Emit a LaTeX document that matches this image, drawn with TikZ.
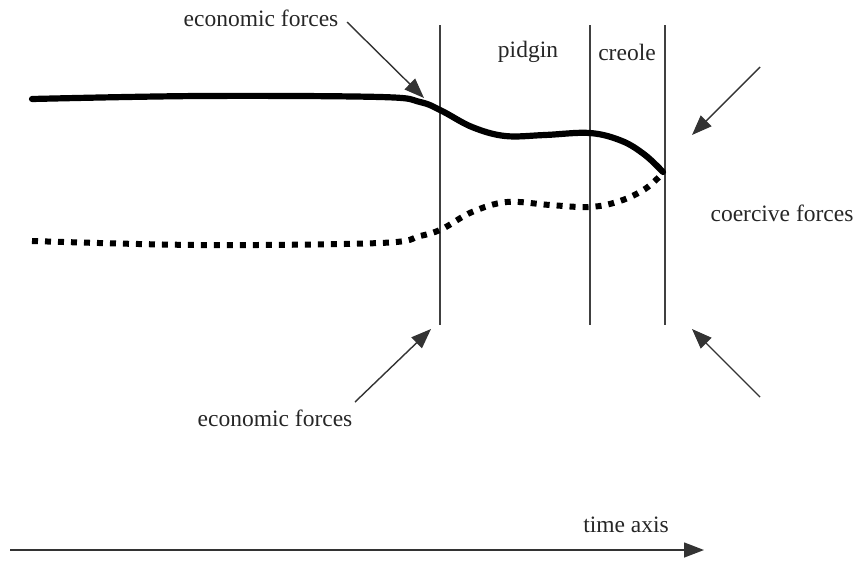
\documentclass[tikz,border=0pt]{standalone}
\usepackage{fontspec}
\setmainfont{Liberation Serif}
\usetikzlibrary{arrows.meta}
\begin{document}
\begin{tikzpicture}[x=1pt,y=-1pt,
  lbl/.style={font=\fontsize{23.5}{27}\selectfont, inner sep=0pt, text=black!85},
  vline/.style={draw=black!75, line width=1.3pt},
  force/.style={draw=black!80, line width=1.4pt, -{Triangle[length=20pt,width=15pt]}},
  solidc/.style={line width=6.2pt, line cap=round},
  dotc/.style={line width=6pt, dash pattern=on 6pt off 7pt}]
\useasboundingbox (0,0) rectangle (858,560);
% vertical boundaries
\coordinate (v1t) at (440,25); \coordinate (v1b) at (440,325);
\coordinate (v2t) at (590,25); \coordinate (v2b) at (590,325);
\coordinate (v3t) at (665,25); \coordinate (v3b) at (665,325);
\draw[vline] (v1t) -- (v1b);
\draw[vline] (v2t) -- (v2b);
\draw[vline] (v3t) -- (v3b);
% curves
\draw[solidc] plot[smooth, tension=0.6] coordinates {(32,99) (200,96) (380,97) (420,102) (442,111) (472,127) (505,136) (545,135) (590,133) (622,141) (645,155) (663,172)};
\draw[dotc] plot[smooth, tension=0.6] coordinates {(32,241) (200,245) (380,243) (420,236) (442,229) (472,212) (507,202) (550,205) (590,207) (620,201) (645,189) (662,174)};
% labels
\node[lbl] (econtop) at (261,18) {economic forces};
\node[lbl] (econbot) at (275,418) {economic forces};
\node[lbl] (coerc) at (782,213) {coercive forces};
\node[lbl] (pidgin) at (528,52) {pidgin};
\node[lbl] (creole) at (627,52) {creole};
\node[lbl] (time) at (626,525) {time axis};
% force arrows
\coordinate (a1s) at (347,22); \coordinate (a1e) at (424,98);
\coordinate (a2s) at (355,402); \coordinate (a2e) at (431,329);
\coordinate (a3s) at (760,67); \coordinate (a3e) at (692,135);
\coordinate (a4s) at (760,397); \coordinate (a4e) at (692,329);
\draw[force] (a1s) -- (a1e);
\draw[force] (a2s) -- (a2e);
\draw[force] (a3s) -- (a3e);
\draw[force] (a4s) -- (a4e);
% time axis
\coordinate (ts) at (10,550); \coordinate (te) at (704,550);
\draw[force] (ts) -- (te);
\end{tikzpicture}
\end{document}
